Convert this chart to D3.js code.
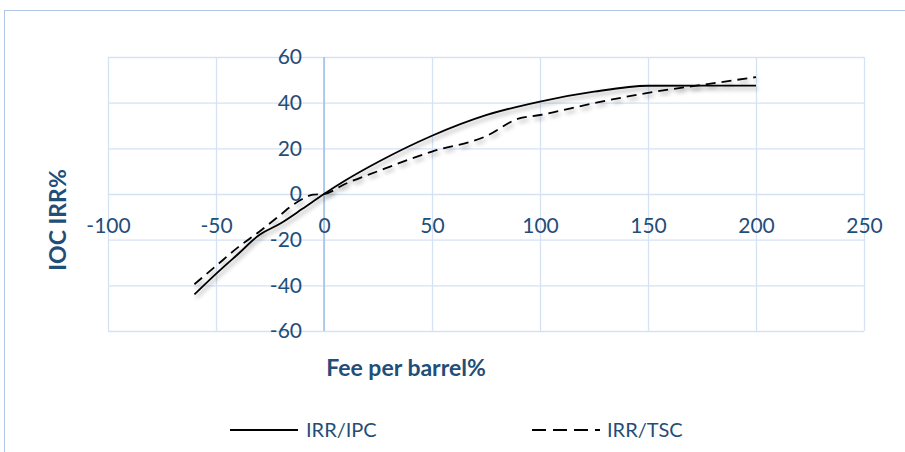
<!DOCTYPE html>
<html>
<head>
<meta charset="utf-8">
<script src="https://cdn.jsdelivr.net/npm/d3@7"></script>
<style>
  html, body { margin: 0; padding: 0; background: #ffffff; }
  svg { display: block; font-family: Lato, "Open Sans", "Liberation Sans", sans-serif; }
</style>
</head>
<body>
<svg id="chart" width="905" height="452"></svg>
<script>
// ---- data ----
const xTicks = [-100, -50, 0, 50, 100, 150, 200, 250];
const yTicks = [-60, -40, -20, 0, 20, 40, 60];

const ipcFee = [-60, -50, -40, -30, -20, -10, 0, 10, 25, 50, 75, 100, 125, 150, 175, 200];
const ipcIRR = [-44, -35, -26.5, -18, -12.8, -6.5, 0, 6, 14, 25.5, 34.5, 40.5, 44.8, 47.4, 47.5, 47.5];

const tscFee = [-60, -50, -40, -30, -20, -15, -10, -5, 0, 10, 25, 50, 75, 90, 100, 125, 150, 175, 200];
const tscIRR = [-39.5, -31.5, -23.5, -16.5, -9, -5.2, -2.2, -0.3, 0, 4.5, 10, 18.6, 25.3, 33, 34.6, 39.8, 44.3, 47.8, 51.2];

const seriesNames = ["IRR/IPC", "IRR/TSC"];
const xTitle = "Fee per barrel%";
const yTitle = "IOC IRR%";

// ---- setup ----
const svg = d3.select("#chart");
const textColor = "#1F4E79";
const gridColor = "#D5E2F4";
const fmt = d => String(d); // plain hyphen-minus, as in the reference

svg.append("rect").attr("x", 4.5).attr("y", 10.5).attr("width", 905).attr("height", 460)
  .attr("fill", "#fff").attr("stroke", "#AFC7E6").attr("stroke-width", 1);

const x = d3.scaleLinear().domain([-100, 250]).range([108, 864]);
const y = d3.scaleLinear().domain([-60, 60]).range([331, 57]);

const defs = svg.append("defs");
const f = defs.append("filter").attr("id", "shadow").attr("x", "-10%").attr("y", "-10%").attr("width", "130%").attr("height", "140%");
f.append("feDropShadow").attr("dx", 2).attr("dy", 3).attr("stdDeviation", 2)
  .attr("flood-color", "#000").attr("flood-opacity", 0.35);

// gridlines
svg.append("g")
  .attr("transform", `translate(0,${y(-60)})`)
  .call(d3.axisBottom(x).tickValues(xTicks).tickSize(-(y(-60) - y(60))).tickFormat(""))
  .call(g => g.select(".domain").remove())
  .call(g => g.selectAll("line").attr("stroke", gridColor).attr("stroke-width", 1.3));

svg.append("g")
  .attr("transform", `translate(${x(-100)},0)`)
  .call(d3.axisLeft(y).tickValues(yTicks).tickSize(-(x(250) - x(-100))).tickFormat(""))
  .call(g => g.select(".domain").remove())
  .call(g => g.selectAll("line").attr("stroke", gridColor).attr("stroke-width", 1.3));

// vertical axis line at x = 0
svg.append("line")
  .attr("x1", x(0)).attr("x2", x(0)).attr("y1", y(60)).attr("y2", y(-60))
  .attr("stroke", "#9DBFE6").attr("stroke-width", 1.5);

// x axis tick labels (crossing at y = 0)
const xAxis = svg.append("g")
  .attr("transform", `translate(0,${y(0)})`)
  .call(d3.axisBottom(x).tickValues(xTicks).tickSize(0).tickPadding(24).tickFormat(fmt));
xAxis.select(".domain").remove();
xAxis.selectAll("text").attr("fill", textColor).style("font-size", "21px")
  .style("font-family", "Lato, 'Open Sans', sans-serif");

// y axis tick labels (at x = 0)
const yAxis = svg.append("g")
  .attr("transform", `translate(${x(0)},0)`)
  .call(d3.axisLeft(y).tickValues(yTicks).tickSize(0).tickPadding(22).tickFormat(fmt));
yAxis.select(".domain").remove();
yAxis.selectAll("text").attr("fill", textColor).style("font-size", "21px")
  .style("font-family", "Lato, 'Open Sans', sans-serif");

// series
const line = d3.line().x(d => x(d[0])).y(d => y(d[1])).curve(d3.curveMonotoneX);
const ipc = ipcFee.map((v, i) => [v, ipcIRR[i]]);
const tsc = tscFee.map((v, i) => [v, tscIRR[i]]);

svg.append("path").datum(tsc).attr("d", line)
  .attr("fill", "none").attr("stroke", "#000").attr("stroke-width", 1.8)
  .attr("stroke-dasharray", "10,6").attr("filter", "url(#shadow)");
svg.append("path").datum(ipc).attr("d", line)
  .attr("fill", "none").attr("stroke", "#000").attr("stroke-width", 1.8)
  .attr("filter", "url(#shadow)");

// axis titles
svg.append("text").attr("x", 406).attr("y", 376).attr("text-anchor", "middle")
  .attr("fill", textColor).style("font-weight", "bold").style("font-size", "23px").text(xTitle);
svg.append("text").attr("transform", "translate(66,220) rotate(-90)").attr("text-anchor", "middle")
  .attr("fill", textColor).style("font-weight", "bold").style("font-size", "23px").text(yTitle);

// legend
const legend = svg.append("g");
legend.append("line").attr("x1", 230).attr("x2", 298).attr("y1", 430).attr("y2", 430)
  .attr("stroke", "#000").attr("stroke-width", 1.8);
legend.append("text").attr("x", 306).attr("y", 437).attr("fill", textColor)
  .style("font-size", "20px").text(seriesNames[0]);
legend.append("line").attr("x1", 532).attr("x2", 600).attr("y1", 430).attr("y2", 430)
  .attr("stroke", "#000").attr("stroke-width", 1.8).attr("stroke-dasharray", "14,7");
legend.append("text").attr("x", 607).attr("y", 437).attr("fill", textColor)
  .style("font-size", "20px").text(seriesNames[1]);
</script>
</body>
</html>
